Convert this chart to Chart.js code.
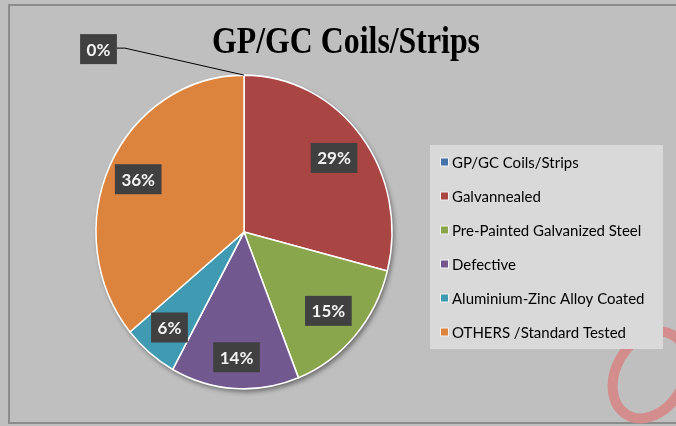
<!DOCTYPE html>
<html lang="en">
<head>
    <meta charset="UTF-8">
    <title>GP/GC Coils/Strips</title>
    <script src="https://cdn.jsdelivr.net/npm/chart.js"></script>
    <style>
        body { margin: 0; background: #fff; overflow: hidden; }
        #wrap { width: 676px; height: 426px; }
    </style>
</head>
<body>
    <div id="wrap"><canvas id="pieChart" width="676" height="426"></canvas></div>

    <script>
        // Chart data
        const chartTitle = 'GP/GC Coils/Strips';
        const labels = ['GP/GC Coils/Strips', 'Galvannealed', 'Pre-Painted Galvanized Steel', 'Defective', 'Aluminium-Zinc Alloy Coated', 'OTHERS /Standard Tested'];
        const shares = [0, 29, 15, 14, 6, 36];
        const colors = ['#4572a7', '#a94542', '#8aa64c', '#71588f', '#3f9ab2', '#dc833d'];

        // how far out (fraction of radius) each % box sits
        const labelRadius = [0, 0.77, 0.76, 0.80, 0.79, 0.79];
        // the original pie is a little taller than wide
        const stretchY = 1.06;

        const frame = {
            id: 'frame',
            beforeDraw(chart) {
                const ctx = chart.ctx;
                ctx.save();
                ctx.fillStyle = '#bfbfbf';
                ctx.fillRect(0, 0, chart.width, chart.height);
                ctx.strokeStyle = '#8c8c8c';
                ctx.lineWidth = 2;
                ctx.strokeRect(9, 5, chart.width + 10, 418);

                // faint watermark ring bottom right
                ctx.strokeStyle = '#d48d8d';
                ctx.lineWidth = 10;
                ctx.beginPath();
                ctx.ellipse(650, 375, 46, 34, -60 * Math.PI / 180, 0, Math.PI * 2);
                ctx.stroke();

                // title
                ctx.fillStyle = '#000';
                ctx.font = 'bold 37px "Liberation Serif"';
                ctx.textBaseline = 'alphabetic';
                ctx.textAlign = 'center';
                const w = ctx.measureText(chartTitle).width;
                const sx = Math.min(1, 268 / w);
                ctx.translate(346, 53);
                ctx.scale(sx, 1);
                ctx.fillText(chartTitle, 0, 0);
                ctx.restore();
            },
            beforeDatasetsDraw(chart) {
                const arc = chart.getDatasetMeta(0).data[1];
                const ctx = chart.ctx;
                ctx.save();
                ctx.translate(arc.x, arc.y);
                ctx.scale(1, stretchY);
                ctx.translate(-arc.x, -arc.y);
                // soft shadow under the pie
                ctx.save();
                ctx.shadowColor = 'rgba(0,0,0,0.45)';
                ctx.shadowBlur = 5;
                ctx.shadowOffsetX = 2;
                ctx.shadowOffsetY = 3;
                ctx.fillStyle = '#bfbfbf';
                ctx.beginPath();
                ctx.arc(arc.x, arc.y, arc.outerRadius, 0, Math.PI * 2);
                ctx.fill();
                ctx.restore();
            },
            afterDatasetsDraw(chart) {
                chart.ctx.restore();
            },
            afterDraw(chart) {
                const ctx = chart.ctx;
                const arcs = chart.getDatasetMeta(0).data;
                ctx.save();

                // legend
                ctx.fillStyle = '#d9d9d9';
                ctx.fillRect(430, 145, 233, 204);
                ctx.font = '15px Lato';
                ctx.textBaseline = 'middle';
                ctx.textAlign = 'left';
                labels.forEach((lab, i) => {
                    const y = 162 + i * 34;
                    ctx.fillStyle = '#f2f2f2';
                    ctx.fillRect(440, y - 4.5, 9, 9);
                    ctx.fillStyle = colors[i];
                    ctx.fillRect(441, y - 3.5, 7, 7);
                    ctx.fillStyle = '#000';
                    ctx.fillText(lab, 452, y + 1);
                });

                // percentage boxes
                ctx.font = 'bold 17px Lato';
                ctx.textAlign = 'center';
                arcs.forEach((arc, i) => {
                    const txt = shares[i] + '%';
                    const tw = ctx.measureText(txt).width + 13;
                    const topY = arc.y - arc.outerRadius * stretchY;
                    let cx, cy;
                    if (shares[i] === 0) {
                        cx = arc.x - 145.5;
                        cy = topY - 26;
                        ctx.strokeStyle = '#000';
                        ctx.lineWidth = 1;
                        ctx.beginPath();
                        ctx.moveTo(cx + tw / 2, cy - 1);
                        ctx.lineTo(cx + tw / 2 + 8, cy - 1);
                        ctx.lineTo(arc.x, topY);
                        ctx.stroke();
                    } else {
                        const mid = (arc.startAngle + arc.endAngle) / 2;
                        cx = arc.x + Math.cos(mid) * arc.outerRadius * labelRadius[i];
                        cy = arc.y + Math.sin(mid) * arc.outerRadius * labelRadius[i] * stretchY;
                    }
                    ctx.fillStyle = '#404040';
                    ctx.fillRect(cx - tw / 2, cy - 15, tw, 30);
                    ctx.fillStyle = '#f2f2f2';
                    ctx.fillText(txt, cx, cy + 1);
                });
                ctx.restore();
            }
        };

        window.onload = function() {
            new Chart(document.getElementById('pieChart'), {
                type: 'pie',
                data: {
                    labels: labels,
                    datasets: [{
                        data: shares,
                        backgroundColor: colors,
                        borderColor: '#ffffff',
                        borderWidth: 1.5,
                        radius: 148
                    }]
                },
                options: {
                    responsive: false,
                    animation: false,
                    layout: { padding: { left: 96, right: 284, top: 84, bottom: 46 } },
                    plugins: {
                        legend: { display: false },
                        title: { display: false },
                        tooltip: { enabled: false }
                    }
                },
                plugins: [frame]
            });
        };
    </script>
</body>
</html>
